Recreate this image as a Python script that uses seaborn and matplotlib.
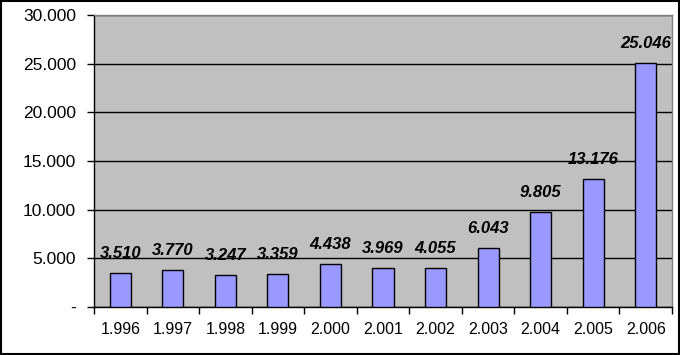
import numpy as np
import seaborn as sns
import matplotlib.pyplot as plt
import pandas as pd

# values
years = ["1.996", "1.997", "1.998", "1.999", "2.000", "2.001", "2.002", "2.003", "2.004", "2.005", "2.006"]
values = [3510, 3770, 3247, 3359, 4438, 3969, 4055, 6043, 9805, 13176, 25046]
value_labels = ["3.510", "3.770", "3.247", "3.359", "4.438", "3.969", "4.055", "6.043", "9.805", "13.176", "25.046"]
y_ticks = [0, 5000, 10000, 15000, 20000, 25000, 30000]
y_tick_labels = ["-", "5.000", "10.000", "15.000", "20.000", "25.000", "30.000"]

df = pd.DataFrame({"year": years, "value": values})

plt.rcParams['font.family'] = ['Liberation Sans', 'DejaVu Sans']

fig = plt.figure(figsize=(6.8, 3.55), dpi=100)
ax = fig.add_axes([94 / 680, 48 / 355, 578 / 680, 292 / 355])
ax.set_facecolor("#C0C0C0")

sns.barplot(data=df, x="year", y="value", color="#9999FF", saturation=1,
            width=0.4, edgecolor="black", linewidth=1, ax=ax, zorder=3)

for i, (v, lab) in enumerate(zip(values, value_labels)):
    ax.annotate(lab, (i, v), xytext=(0, 14), textcoords="offset points",
                ha="center", va="center", fontsize=12, fontweight="semibold",
                fontstyle="italic", color="black", zorder=4)

ax.set_ylim(0, 30000)
ax.set_xlim(-0.5, len(years) - 0.5)
ax.set_yticks(y_ticks)
ax.set_yticklabels(y_tick_labels, fontsize=12.5)
ax.yaxis.grid(True, color="black", linewidth=1)
ax.set_axisbelow(True)

ax.set_xticks(range(len(years)))
ax.set_xticklabels(years, fontsize=11.5)
ax.set_xticks(np.arange(-0.5, len(years)), minor=True)
ax.tick_params(axis="x", which="major", length=0, pad=11)
ax.tick_params(axis="x", which="minor", length=5, width=1, color="black", direction="out")
ax.tick_params(axis="y", length=5, width=1, color="black", pad=8)

ax.set_xlabel("")
ax.set_ylabel("")
for side in ["top", "right"]:
    ax.spines[side].set_color("#808080")
    ax.spines[side].set_linewidth(1)
for side in ["left", "bottom"]:
    ax.spines[side].set_color("black")
    ax.spines[side].set_linewidth(1)

# black frame around the whole figure
fig.patches.append(plt.Rectangle((0.001, 0.002), 0.997, 0.996, transform=fig.transFigure,
                                 fill=False, edgecolor="black", linewidth=1.5))

fig.savefig("out.png", dpi=100)
